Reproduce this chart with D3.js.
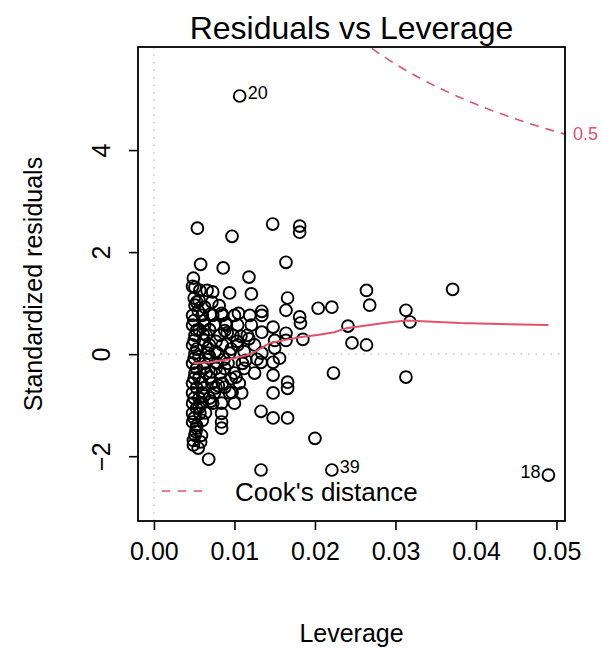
<!DOCTYPE html>
<html>
<head>
<meta charset="utf-8">
<script src="https://cdn.jsdelivr.net/npm/d3@7"></script>
<style>
  html, body { margin: 0; padding: 0; background: #fff; }
  svg { display: block; }
  text { font-family: "Liberation Sans", Arial, Helvetica, sans-serif; fill: #000; }
</style>
</head>
<body>
<svg id="chart" width="603" height="649"></svg>
<script>
// ---------- data ----------
const pointLabels = ["20", "39", "18"];          // ids of the first three points
const leverage = [
  0.01065, 0.0221, 0.0490, 0.0133, 0.0200, 0.0068,
  0.0181, 0.0181, 0.0164, 0.0166, 0.0164, 0.0181, 0.0182, 0.0204, 0.0221,
  0.0264, 0.0268, 0.0313, 0.0318, 0.0371, 0.0164, 0.0164, 0.0185, 0.0241,
  0.0246, 0.0264, 0.0156, 0.0223, 0.0313, 0.0166, 0.0166, 0.0166,
  0.01475, 0.0134, 0.0134, 0.0148, 0.0150, 0.0134, 0.0150, 0.0133, 0.0148,
  0.0125, 0.0148, 0.0148, 0.0133, 0.0148, 0.0118, 0.0121, 0.0097, 0.0054,
  0.0058, 0.0086, 0.0094, 0.0105, 0.0084, 0.0072, 0.0063, 0.0051, 0.0049,
  0.0051, 0.0057, 0.0066, 0.0073, 0.0048,
  0.0048, 0.0060, 0.0073, 0.0085, 0.0100, 0.0119, 0.0134,
  0.0048, 0.0063, 0.0075, 0.0090, 0.0104, 0.0121,
  0.0051, 0.0065, 0.0082, 0.0098, 0.0116,
  0.0048, 0.0069, 0.0085, 0.0104, 0.0125,
  0.0051, 0.0067, 0.0079, 0.0094,
  0.0048, 0.0063, 0.0078, 0.0092, 0.0110,
  0.0051, 0.0065, 0.0082, 0.0100,
  0.0048, 0.0059, 0.0072, 0.0085, 0.0106,
  0.0048, 0.0060, 0.0075, 0.0094, 0.0109,
  0.0048, 0.0060, 0.0073, 0.0084, 0.0100,
  0.0048, 0.0057, 0.0084,
  0.0048, 0.0084,
  0.0053, 0.0084,
  0.0051, 0.0059,
  0.0049, 0.0055, 0.0049, 0.0058,
  0.0050, 0.0053, 0.0050, 0.0053, 0.0050, 0.0053, 0.0050, 0.0053, 0.0050,
  0.0053, 0.0050, 0.0053, 0.0050, 0.0053, 0.0056, 0.0056, 0.0056, 0.0056,
  0.0056, 0.0056, 0.0062, 0.0062, 0.0062, 0.0062, 0.0062, 0.0069, 0.0069,
  0.0069, 0.0069, 0.0077, 0.0077, 0.0077, 0.0088, 0.0088, 0.0088, 0.0096,
  0.0096, 0.0103, 0.0112, 0.0112, 0.0118, 0.0128,
  0.0055, 0.0061, 0.0067, 0.0071, 0.0080, 0.0087, 0.0091, 0.0097, 0.0102,
  0.0108, 0.0058, 0.0064, 0.0071, 0.0076, 0.0081, 0.0052, 0.0060, 0.0089,
  0.0114, 0.0070
];
const stdResiduals = [
  5.06, -2.27, -2.37, -2.27, -1.65, -2.06,
  2.51, 2.39, 1.80, 1.10, 0.86, 0.73, 0.61, 0.90, 0.92,
  1.25, 0.96, 0.86, 0.63, 1.27, 0.41, 0.27, 0.29, 0.55,
  0.22, 0.18, -0.08, -0.37, -0.45, -0.55, -0.67, -1.25,
  2.55, 0.84, 0.43, 0.53, 0.27, 0.02, 0.12, -0.16, -0.16,
  -0.37, -0.41, -0.76, -1.12, -1.25, 1.51, 1.18, 2.31, 2.47,
  1.76, 1.69, 1.20, 0.80, 0.80, 1.02, 0.92, 0.96, 1.49,
  1.31, 1.25, 1.25, 1.22, 1.33,
  0.76, 0.76, 0.76, 0.76, 0.76, 0.76, 0.76,
  0.57, 0.57, 0.57, 0.57, 0.57, 0.57,
  0.37, 0.37, 0.37, 0.37, 0.37,
  0.18, 0.18, 0.18, 0.18, 0.18,
  0.02, 0.02, 0.02, 0.02,
  -0.18, -0.18, -0.18, -0.18, -0.18,
  -0.37, -0.37, -0.37, -0.37,
  -0.57, -0.57, -0.57, -0.57, -0.57,
  -0.76, -0.76, -0.76, -0.76, -0.76,
  -0.96, -0.96, -0.96, -0.96, -0.96,
  -1.16, -1.16, -1.16,
  -1.33, -1.33,
  -1.45, -1.45,
  -1.59, -1.59,
  -1.69, -1.84, -1.78, -1.72,
  1.10, 1.02, 0.66, 0.47, 0.27, 0.10, -0.08, -0.28, -0.47,
  -0.66, -0.86, -1.06, -1.25, -1.40, 1.05, 0.48, -0.05, -0.46,
  -0.86, -1.05, 0.65, 0.27, -0.28, -0.66, -0.82, 0.48, -0.05,
  -0.45, -0.86, 0.25, -0.28, -0.66, 0.46, -0.28, -0.65, 0.10,
  -0.48, 0.25, 0.05, -0.28, 0.30, -0.10,
  0.85, 0.40, 0.12, -0.35, -0.62, -0.10, 0.42, -0.75, -0.45,
  0.35, -0.95, -1.15, -0.92, 0.05, 0.95, -1.52, -1.30, 0.60,
  -0.12, 0.78
];
// lowess smoother (red line)
const smoothLev = [0.0049, 0.0070, 0.0094, 0.0115, 0.0125, 0.0144, 0.0160, 0.0181, 0.0205,
                   0.0224, 0.0239, 0.0268, 0.0290, 0.0314, 0.0340, 0.0380, 0.0430, 0.0490];
const smoothRes = [-0.18, -0.16, -0.10, -0.02, 0.04, 0.22, 0.27, 0.33, 0.38,
                   0.43, 0.51, 0.57, 0.62, 0.66, 0.64, 0.61, 0.59, 0.57];
const cookLevels = [0.5];
const nParams = 2;
const xTicks = [0, 0.01, 0.02, 0.03, 0.04, 0.05];
const yTicks = [-2, 0, 2, 4];

// ---------- layout ----------
const svg = d3.select("#chart");
const L = 138, R = 565, T = 47, B = 521;
const red = "#DF536B";
const x = d3.scaleLinear().domain([-0.00198, 0.05106]).range([L, R]);
const y = d3.scaleLinear().domain([-3.27, 6.02]).range([B, T]);

svg.append("defs").append("clipPath").attr("id", "plotclip")
  .append("rect").attr("x", L).attr("y", T).attr("width", R - L).attr("height", B - T);

// reference lines (dotted grey)
svg.append("line").attr("x1", x(0)).attr("x2", x(0)).attr("y1", T).attr("y2", B)
  .attr("stroke", "#BEBEBE").attr("stroke-width", 1.3).attr("stroke-dasharray", "1.5,6");
svg.append("line").attr("x1", L).attr("x2", R).attr("y1", y(0)).attr("y2", y(0))
  .attr("stroke", "#BEBEBE").attr("stroke-width", 1.3).attr("stroke-dasharray", "1.5,6");

// Cook's distance contour(s)
const g = svg.append("g").attr("clip-path", "url(#plotclip)");
const hh = d3.range(101).map(i => 0.0048 + (x.domain()[1] - 0.0048) * i / 100);
cookLevels.forEach(c => {
  const cpts = hh.map(h => [h, Math.sqrt(c * nParams * (1 - h) / h)]);
  const line = d3.line().x(d => x(d[0])).y(d => y(d[1]));
  g.append("path").attr("d", line(cpts)).attr("fill", "none")
    .attr("stroke", red).attr("stroke-width", 1.6).attr("stroke-dasharray", "9,7");
  g.append("path").attr("d", line(cpts.map(p => [p[0], -p[1]]))).attr("fill", "none")
    .attr("stroke", red).attr("stroke-width", 1.6).attr("stroke-dasharray", "9,7");
  const hEnd = x.domain()[1];
  svg.append("text").attr("x", R + 8).attr("y", y(Math.sqrt(c * nParams * (1 - hEnd) / hEnd)) + 6)
    .attr("font-size", 18).style("fill", red).text(String(c));
});

// points
const pts = leverage.map((l, i) => ({ l, r: stdResiduals[i] }));
svg.append("g").selectAll("circle").data(pts).join("circle")
  .attr("cx", d => x(d.l)).attr("cy", d => y(d.r)).attr("r", 5.9)
  .attr("fill", "none").attr("stroke", "#000").attr("stroke-width", 1.9);

// smoother
svg.append("path")
  .attr("d", d3.line().x((d, i) => x(smoothLev[i])).y((d, i) => y(smoothRes[i]))(smoothLev))
  .attr("fill", "none").attr("stroke", red).attr("stroke-width", 2);

// point labels
const midX = (d3.min(leverage) + d3.max(leverage)) / 2;
pointLabels.forEach((lab, i) => {
  const right = leverage[i] <= midX;
  svg.append("text")
    .attr("x", x(leverage[i]) + (right ? 8 : -8))
    .attr("y", y(stdResiduals[i]) + 3)
    .attr("text-anchor", right ? "start" : "end")
    .attr("font-size", 18).text(lab);
});

// box
svg.append("rect").attr("x", L).attr("y", T).attr("width", R - L).attr("height", B - T)
  .attr("fill", "none").attr("stroke", "#000").attr("stroke-width", 1.8);

// axes
const ax = svg.append("g").attr("transform", `translate(0,${B})`)
  .call(d3.axisBottom(x).tickValues(xTicks).tickFormat(d3.format(".2f")).tickSize(9).tickPadding(30));
ax.select(".domain").remove();
ax.selectAll("line").attr("stroke", "#000").attr("stroke-width", 1.6);
ax.selectAll("text").attr("font-size", 25).attr("dy", "0").style("font-family", "Liberation Sans, Arial, sans-serif");

const ay = svg.append("g").attr("transform", `translate(${L},0)`)
  .call(d3.axisLeft(y).tickValues(yTicks).tickFormat(d3.format("d")).tickSize(9));
ay.select(".domain").remove();
ay.selectAll("line").attr("stroke", "#000").attr("stroke-width", 1.6);
ay.selectAll("text").attr("font-size", 25).attr("x", 0).attr("y", -28).attr("dy", "0")
  .attr("text-anchor", "middle").attr("transform", "rotate(-90)")
  .style("font-family", "Liberation Sans, Arial, sans-serif")
  .text(d => d < 0 ? "\u2212" + Math.abs(d) : d);

// titles
svg.append("text").attr("x", (L + R) / 2).attr("y", 39).attr("text-anchor", "middle")
  .attr("font-size", 32).text("Residuals vs Leverage");
svg.append("text").attr("x", (L + R) / 2).attr("y", 642).attr("text-anchor", "middle")
  .attr("font-size", 25).text("Leverage");
svg.append("text").attr("transform", `translate(42,${(T + B) / 2}) rotate(-90)`)
  .attr("text-anchor", "middle").attr("font-size", 25).text("Standardized residuals");

// legend
svg.append("line").attr("x1", 162).attr("x2", 204).attr("y1", 491).attr("y2", 491)
  .attr("stroke", red).attr("stroke-width", 1.6).attr("stroke-dasharray", "8,8");
svg.append("text").attr("x", 235).attr("y", 501).attr("font-size", 26).text("Cook's distance");
</script>
</body>
</html>
